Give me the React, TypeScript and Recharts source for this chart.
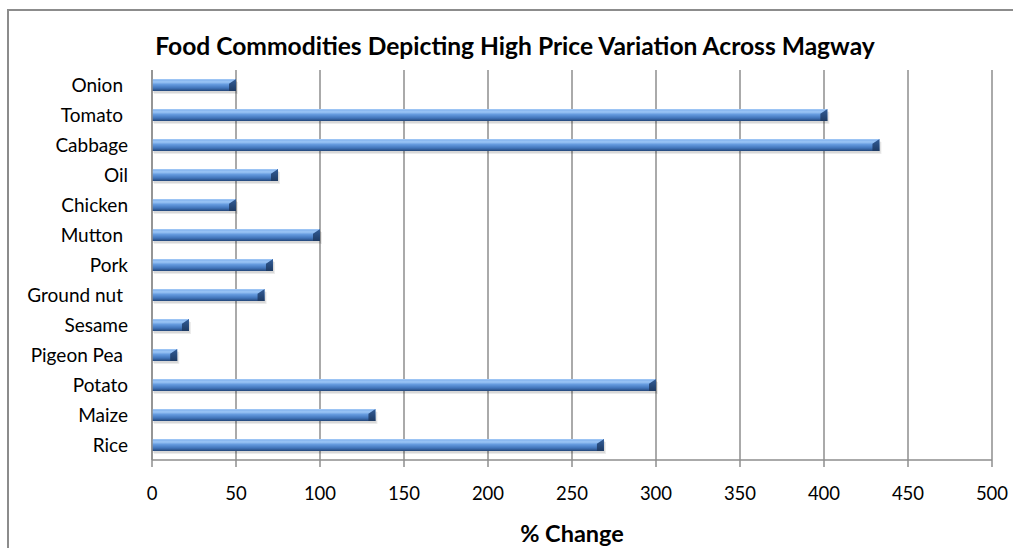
import React from 'react';
import { BarChart, Bar, XAxis, YAxis, CartesianGrid, Label } from 'recharts';

// top to bottom, as in the picture (trailing spaces kept as in the source labels)
const commodities = ['Onion ', 'Tomato ', 'Cabbage', 'Oil', 'Chicken', 'Mutton ', 'Pork', 'Ground nut ', 'Sesame', 'Pigeon Pea ', 'Potato', 'Maize', 'Rice'];
const pctChange = [50, 402, 433, 75, 50, 100, 72, 67, 22, 15, 300, 133, 269];
const xTicks = [0, 50, 100, 150, 200, 250, 300, 350, 400, 450, 500];

const chartTitle = 'Food Commodities Depicting High Price Variation Across Magway';
const axisTitle = '% Change';

const data = commodities.map((name, i) => ({ name, value: pctChange[i] }));

const FONT = 'Lato, "Open Sans", sans-serif';
const GRID = '#8e8e8e';

const CategoryTick = (props: any) => {
  const { x, y, payload } = props;
  const raw: string = payload.value;
  const shift = raw.endsWith(' ') ? 5 : 0;
  return (
    <text x={x - shift} y={y} dy="0.35em" textAnchor="end" fill="#000" fontSize={19} fontFamily={FONT}>
      {raw.trim()}
    </text>
  );
};

const TubeBar = (props: any) => {
  const { x, y, width, height } = props;
  if (!width || width <= 0) return null;
  const cap = Math.min(7, width / 2);
  return (
    <g>
      <rect x={x + 2} y={y + 3} width={width} height={height} fill="#000" opacity={0.08} />
      <rect x={x + 1} y={y + 2} width={width} height={height} fill="#000" opacity={0.08} />
      <rect x={x} y={y} width={width} height={height} fill="url(#tubeFill)" />
      <polygon
        points={`${x + width - cap},${y + height * 0.4} ${x + width},${y} ${x + width},${y + height} ${x + width - cap},${y + height}`}
        fill="url(#capFill)"
      />
      <line x1={x} y1={y + 0.5} x2={x + width - 1} y2={y + 0.5} stroke="#9cc4f4" strokeWidth={1} />
    </g>
  );
};

export default function App() {
  return (
    <div style={{ position: 'absolute', left: 0, top: 0, width: 1013, height: 548, overflow: 'hidden', background: '#fff' }}>
      {/* gradients for the bars, kept outside the chart */}
      <svg width={0} height={0} style={{ position: 'absolute' }}>
        <defs>
          <linearGradient id="tubeFill" x1="0" y1="0" x2="0" y2="1">
            <stop offset="0%" stopColor="#78aaea" />
            <stop offset="25%" stopColor="#9cc6f6" />
            <stop offset="45%" stopColor="#659bdf" />
            <stop offset="75%" stopColor="#4175bb" />
            <stop offset="100%" stopColor="#24477a" />
          </linearGradient>
          <linearGradient id="capFill" x1="0" y1="0" x2="0" y2="1">
            <stop offset="0%" stopColor="#335d98" />
            <stop offset="100%" stopColor="#1d3a63" />
          </linearGradient>
        </defs>
      </svg>
      {/* chart frame: only its top and left edges fall inside the picture */}
      <div style={{ position: 'absolute', left: 7, top: 9, width: 1006, height: 2, background: '#8c8c8c' }} />
      <div style={{ position: 'absolute', left: 7, top: 9, width: 2, height: 539, background: '#8c8c8c' }} />
      <div
        style={{
          position: 'absolute', left: 15, top: 30, width: 1000, textAlign: 'center',
          fontFamily: FONT, fontWeight: 700, fontSize: 24.6, color: '#000', lineHeight: '32px', whiteSpace: 'nowrap',
        }}
      >
        {chartTitle}
      </div>
      <div style={{ position: 'absolute', left: 0, top: 0 }}>
        <BarChart
          width={1013}
          height={548}
          data={data}
          layout="vertical"
          margin={{ top: 70, right: 21, left: 8, bottom: 28 }}
          barCategoryGap="60%"
          accessibilityLayer={false}
        >
          <CartesianGrid horizontal={false} stroke={GRID} strokeWidth={1.5} />
          <XAxis
            type="number"
            domain={[0, 500]}
            ticks={xTicks}
            interval={0}
            axisLine={{ stroke: GRID, strokeWidth: 1.5 }}
            tickLine={{ stroke: GRID, strokeWidth: 1.5 }}
            tickSize={7}
            tickMargin={20}
            tick={{ fill: '#000', fontSize: 18.5, fontFamily: FONT }}
            height={60}
          >
            <Label
              value={axisTitle}
              position="insideBottom"
              offset={-22}
              style={{ fill: '#000', fontSize: 23.5, fontWeight: 700, fontFamily: FONT }}
            />
          </XAxis>
          <YAxis
            type="category"
            dataKey="name"
            width={144}
            interval={0}
            axisLine={{ stroke: GRID, strokeWidth: 1.5 }}
            tickLine={false}
            tickMargin={18}
            tick={<CategoryTick />}
          />
          <Bar dataKey="value" barSize={12} shape={<TubeBar />} isAnimationActive={false} />
        </BarChart>
      </div>
    </div>
  );
}
